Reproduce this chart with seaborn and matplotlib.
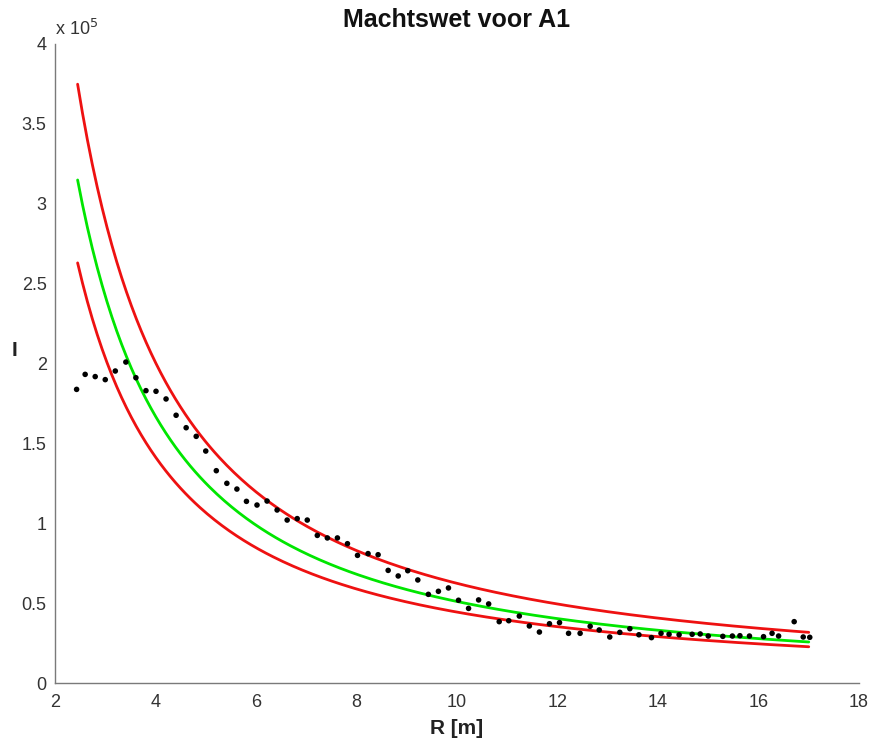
import numpy as np
import pandas as pd
import matplotlib
matplotlib.use("Agg")
import matplotlib.pyplot as plt
import seaborn as sns

# Measured data: R [m] and intensity I (in units of 1e5)
R_data = [2.43, 2.60, 2.80, 3.00, 3.20, 3.41, 3.61, 3.81, 4.01, 4.21,
          4.41, 4.61, 4.81, 5.00, 5.21, 5.42, 5.62, 5.81, 6.02, 6.22,
          6.42, 6.62, 6.82, 7.02, 7.22, 7.42, 7.62, 7.82, 8.02, 8.23,
          8.43, 8.63, 8.83, 9.02, 9.22, 9.43, 9.63, 9.83, 10.03, 10.23,
          10.43, 10.63, 10.84, 11.03, 11.24, 11.44, 11.64, 11.84, 12.04, 12.22,
          12.45, 12.65, 12.83, 13.04, 13.24, 13.44, 13.62, 13.87, 14.06, 14.22,
          14.42, 14.68, 14.84, 15.00, 15.29, 15.48, 15.63, 15.82, 16.10, 16.27,
          16.40, 16.71, 16.89, 17.02]
I_data = [1.838, 1.932, 1.918, 1.899, 1.953, 2.009, 1.911, 1.830, 1.826, 1.778,
          1.676, 1.598, 1.544, 1.452, 1.329, 1.250, 1.214, 1.137, 1.114, 1.139,
          1.083, 1.020, 1.029, 1.020, 0.924, 0.908, 0.908, 0.872, 0.799, 0.810,
          0.803, 0.705, 0.670, 0.703, 0.645, 0.555, 0.574, 0.595, 0.518, 0.467,
          0.520, 0.495, 0.384, 0.390, 0.419, 0.357, 0.319, 0.371, 0.378, 0.311,
          0.311, 0.355, 0.332, 0.288, 0.317, 0.340, 0.302, 0.284, 0.311, 0.305,
          0.302, 0.305, 0.307, 0.294, 0.292, 0.294, 0.296, 0.294, 0.290, 0.311,
          0.294, 0.384, 0.288, 0.286]

# Power-law fit I = a * R^b (a in units of 1e5): best fit and bounds
fit_labels = ["fit", "upper", "lower"]
fit_a = [10.04, 11.75, 8.17]
fit_b = [-1.294, -1.275, -1.265]
fit_colors = ["#00e600", "#ee1111", "#ee1111"]
R_fit_min, R_fit_max = 2.45, 17.0

x_ticks = [2, 4, 6, 8, 10, 12, 14, 16, 18]
y_ticks = [0, 0.5, 1, 1.5, 2, 2.5, 3, 3.5, 4]
y_ticklabels = ["0", "0.5", "1", "1.5", "2", "2.5", "3", "3.5", "4"]

sns.set_style("white")
plt.rcParams["font.family"] = ["Liberation Sans", "DejaVu Sans"]

fig = plt.figure(figsize=(8.72, 7.4), dpi=100)
ax = fig.add_axes([55 / 872, 1 - 683 / 740, 804 / 872, 639 / 740])

Rg = np.linspace(R_fit_min, R_fit_max, 300)
for lab, a, b, c in zip(fit_labels, fit_a, fit_b, fit_colors):
    df = pd.DataFrame({"R": Rg, "I": a * Rg ** b})
    sns.lineplot(data=df, x="R", y="I", color=c, linewidth=2.0, ax=ax, zorder=2)

pts = pd.DataFrame({"R": R_data, "I": I_data})
sns.scatterplot(data=pts, x="R", y="I", color="black", s=16, edgecolor="none",
                ax=ax, zorder=3)

ax.set_xlim(2, 18)
ax.set_ylim(0, 4)
ax.set_xticks(x_ticks)
ax.set_yticks(y_ticks)
ax.set_yticklabels(y_ticklabels)
for s in ["top", "right"]:
    ax.spines[s].set_visible(False)
for s in ["left", "bottom"]:
    ax.spines[s].set_color("#7a7a7a")
    ax.spines[s].set_linewidth(1.0)
ax.tick_params(direction="in", length=6, width=1.0, color="#7a7a7a",
               labelcolor="#333333", labelsize=13, pad=6)
ax.tick_params(axis="x", pad=8)

ax.set_xlabel("R [m]", fontsize=15, fontweight="bold", color="#222222")
ax.xaxis.set_label_coords(0.5, -0.056)
ax.set_ylabel("I", fontsize=15, fontweight="bold", color="#222222", rotation=0,
              va="center", ha="center")
ax.yaxis.set_label_coords(-0.05, 0.521)
ax.set_title("Machtswet voor A1", fontsize=18, fontweight="bold", color="#111111", pad=12)

ax.text(0.0, 1.008, "x 10$^{5}$", transform=ax.transAxes, fontsize=13,
        color="#333333", ha="left", va="bottom")

fig.savefig("out.png", dpi=100, facecolor="white")
